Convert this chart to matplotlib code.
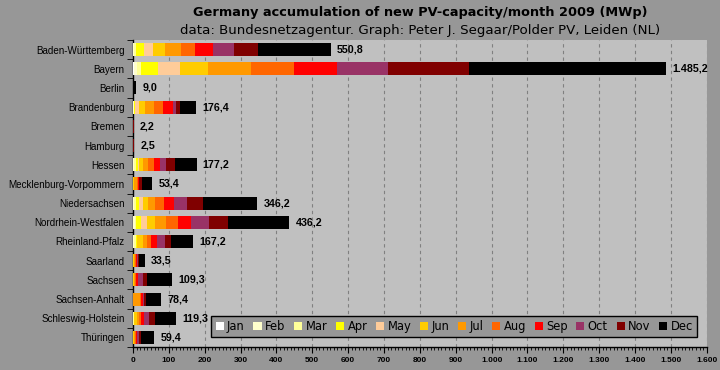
import matplotlib
matplotlib.use("Agg")
import matplotlib.pyplot as plt
import numpy as np
from matplotlib.ticker import MultipleLocator, FuncFormatter
from matplotlib.patches import Patch

states = ["Baden-Württemberg", "Bayern", "Berlin", "Brandenburg", "Bremen", "Hamburg",
          "Hessen", "Mecklenburg-Vorpommern", "Niedersachsen", "Nordrhein-Westfalen",
          "Rheinland-Pfalz", "Saarland", "Sachsen", "Sachsen-Anhalt",
          "Schleswig-Holstein", "Thüringen"]
months = ["Jan", "Feb", "Mar", "Apr", "May", "Jun", "Jul", "Aug", "Sep", "Oct", "Nov", "Dec"]
month_colors = ["#ffffff", "#ffffcc", "#ffff99", "#ffff00", "#ffcc99", "#ffcc00",
                "#ff9900", "#ff6600", "#ff0000", "#993366", "#800000", "#000000"]

# monthly new capacity (MWp) per state, Jan..Dec
baden_wuerttemberg = [1, 3, 5, 21, 25, 33.5, 45, 39, 50, 59, 67, 202.3]
bayern = [2, 8, 12, 48, 60, 78, 120, 120, 120, 142, 226, 549.2]
berlin = [0, 0, 0, 0, 0, 0, 0, 0, 0, 0.5, 0.5, 8.0]
brandenburg = [0.5, 1, 1.5, 3, 10, 17, 25, 25, 28, 8, 12, 45.4]
bremen = [0, 0, 0, 0.1, 0.1, 0.2, 0.2, 0.2, 0.2, 0.3, 0.3, 0.6]
hamburg = [0, 0, 0, 0.1, 0.1, 0.2, 0.2, 0.2, 0.3, 0.3, 0.4, 0.7]
hessen = [1, 3, 4, 5, 4, 11, 14, 17, 17, 17, 25, 59.2]
mecklenburg_vorpommern = [0, 0, 0, 0, 0, 2, 8, 3, 3, 2, 6, 29.4]
niedersachsen = [1, 3, 4, 9, 11, 14, 19.5, 25, 28, 36, 44.7, 151]
nordrhein_westfalen = [1, 4, 3, 14, 17, 22, 31, 33.5, 36, 50, 53, 171.7]
rheinland_pfalz = [1, 3, 4, 3, 0, 17, 11, 11, 17, 22, 17, 61.2]
saarland = [0, 0, 0, 0, 0, 2, 4, 2, 2, 3, 5, 15.5]
sachsen = [0, 0, 0, 0, 0, 2, 4, 3, 6, 14, 11, 69.3]
sachsen_anhalt = [0, 0, 0, 0, 0, 0, 20, 2, 6, 2, 6, 42.4]
schleswig_holstein = [0, 1, 1, 1, 1, 6, 6, 6, 8, 14, 17, 58.3]
thueringen = [0, 0, 0, 0, 0, 3, 4, 2, 3, 5, 4, 38.4]

totals = [550.8, 1485.2, 9.0, 176.4, 2.2, 2.5, 177.2, 53.4, 346.2, 436.2,
          167.2, 33.5, 109.3, 78.4, 119.3, 59.4]

data = np.array([baden_wuerttemberg, bayern, berlin, brandenburg, bremen, hamburg,
                 hessen, mecklenburg_vorpommern, niedersachsen, nordrhein_westfalen,
                 rheinland_pfalz, saarland, sachsen, sachsen_anhalt,
                 schleswig_holstein, thueringen], dtype=float)


def de_fmt(v, dec=1):
    s = f"{v:,.{dec}f}"
    return s.replace(",", "X").replace(".", ",").replace("X", ".")


outer = "#979797"
inner = "#c0c0c0"

fig = plt.figure(figsize=(7.2, 3.7), dpi=100, facecolor=outer)
ax = fig.add_axes([0.1847, 0.062, 0.797, 0.830], facecolor=inner)

y = np.arange(len(states))
left = np.zeros(len(states))
for m in range(12):
    ax.barh(y, data[:, m], left=left, height=0.68, color=month_colors[m],
            edgecolor="none", zorder=3)
    left += data[:, m]

for i, t in enumerate(totals):
    ax.annotate(de_fmt(t), xy=(left[i], y[i]), xytext=(4.5, 0), textcoords="offset points",
                va="center", ha="left", fontsize=7.7, fontweight="bold",
                family="Liberation Sans", color="black", zorder=5)

ax.set_xlim(0, 1600)
ax.set_ylim(len(states) - 0.5, -0.5)
ax.xaxis.set_major_locator(MultipleLocator(100))
ax.xaxis.set_minor_locator(MultipleLocator(10))
ax.xaxis.set_major_formatter(FuncFormatter(lambda v, p: de_fmt(v, 0)))
ax.grid(axis="x", which="major", color="#808080", linestyle=(0, (3, 3)),
        linewidth=0.8, zorder=1)
ax.set_axisbelow(True)

ax.set_yticks(y)
ax.set_yticklabels(states, fontsize=7.1, family="Liberation Sans")
ax.set_yticks(np.arange(len(states) + 1) - 0.5, minor=True)
ax.tick_params(axis="y", which="major", length=0, pad=6)
ax.tick_params(axis="y", which="minor", length=4, direction="out", color="black")
ax.tick_params(axis="x", which="major", length=4, direction="out", labelsize=6, pad=3)
ax.tick_params(axis="x", which="minor", length=2, direction="out")
for lbl in ax.get_xticklabels():
    lbl.set_fontweight("bold")
    lbl.set_family("Liberation Sans")

for s in ["top", "right"]:
    ax.spines[s].set_visible(False)
for s in ["left", "bottom"]:
    ax.spines[s].set_color("black")
    ax.spines[s].set_linewidth(1.0)

fig.text(0.583, 0.965, "Germany accumulation of new PV-capacity/month 2009 (MWp)",
         ha="center", va="center", fontsize=9.3, fontweight="bold")
fig.text(0.583, 0.918, "data: Bundesnetzagentur. Graph: Peter J. Segaar/Polder PV, Leiden (NL)",
         ha="center", va="center", fontsize=9.6)

handles = [Patch(facecolor=c, edgecolor="none", label=m) for m, c in zip(months, month_colors)]
leg = fig.legend(handles=handles, loc="upper right", bbox_to_anchor=(697 / 720, 1 - 316 / 370),
                 ncol=12, fontsize=8.3, frameon=True, fancybox=False,
                 handlelength=0.7, handleheight=0.7, handletextpad=0.3,
                 columnspacing=0.75, borderpad=0.35, borderaxespad=0)
leg.get_frame().set_facecolor(outer)
leg.get_frame().set_edgecolor("black")
leg.get_frame().set_linewidth(1.0)
leg.get_frame().set_alpha(1)

fig.savefig("out.png", dpi=100, facecolor=outer)
